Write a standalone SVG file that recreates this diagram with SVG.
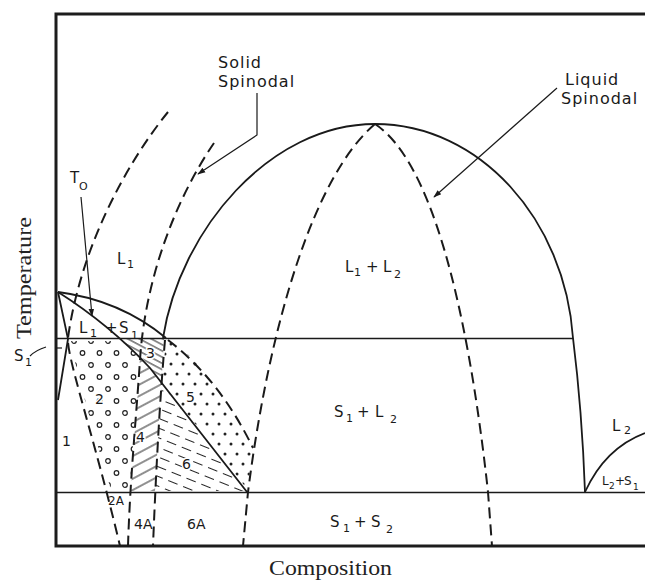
<svg xmlns="http://www.w3.org/2000/svg" width="645" height="582" viewBox="0 0 645 582">
<style>
.f{fill:none;stroke:#1a1a1a;stroke-width:1.8;stroke-linejoin:round}
.h{fill:none;stroke:#1a1a1a;stroke-width:1.3}
.d{fill:none;stroke:#1a1a1a;stroke-width:2;stroke-dasharray:11 6}
.ld{fill:none;stroke:#1a1a1a;stroke-width:1.2}
.t{font-family:"DejaVu Sans",sans-serif;font-size:15px;fill:#1a1a1a}
.b{font-size:16px;letter-spacing:1px}
.s{font-size:11px}
.n{font-size:14px}
.w{stroke:#fff;stroke-width:3px;paint-order:stroke;stroke-linejoin:round}
.sm{font-size:12px}
.ss{font-size:9px}
.ser{font-family:"Liberation Serif","Times New Roman",serif;font-size:22px;fill:#222}
</style>
<defs>
<marker id="ar" viewBox="0 0 10 10" refX="9" refY="5" markerWidth="8" markerHeight="8" orient="auto" markerUnits="userSpaceOnUse"><path d="M0,1.5 L10,5 L0,8.5z" fill="#1a1a1a"/></marker>
<pattern id="pc" width="17" height="24" patternUnits="userSpaceOnUse" x="2" y="0"><circle cx="4" cy="5" r="2.3" fill="none" stroke="#222" stroke-width="1.2"/><circle cx="12.5" cy="17" r="2.3" fill="none" stroke="#222" stroke-width="1.2"/></pattern>
<pattern id="pd" width="12" height="20" patternUnits="userSpaceOnUse"><circle cx="3" cy="4" r="1.5" fill="#222"/><circle cx="9" cy="14" r="1.5" fill="#222"/></pattern>
<pattern id="p3" width="10" height="5.5" patternUnits="userSpaceOnUse" patternTransform="rotate(28)"><line x1="0" y1="2.7" x2="10" y2="2.7" stroke="#222" stroke-width="1"/></pattern>
<pattern id="p4" width="10" height="10" patternUnits="userSpaceOnUse" patternTransform="rotate(-28)"><line x1="0" y1="5" x2="10" y2="5" stroke="#222" stroke-width="1"/></pattern>
<pattern id="p6" width="16" height="9" patternUnits="userSpaceOnUse" patternTransform="rotate(22)"><line x1="0" y1="4.5" x2="10" y2="4.5" stroke="#222" stroke-width="1"/></pattern>
</defs>
<rect width="645" height="582" fill="#fff"/>

<g id="regions">
<polygon id="r2" fill="url(#pc)" points="70,341 119,341 130,348 139,358 137,385 135,414 132,460 130,490 111,490 103,463 95,437 83,393 73,354"/>
<polygon id="r3" fill="url(#p3)" points="121,339 164,339 161.6,381 150,368 140,355 130,347"/>
<polygon id="r4" fill="url(#p4)" points="140,356 150,368 161,382 158,440 155,491 131,491 133,455 136,414 138.5,385"/>
<polygon id="r5" fill="url(#pd)" points="166,340 170,341 195,360 218,390 237,418 252,451 248,490 162,382"/>
<polygon id="r6" fill="url(#p6)" points="162,383 246,491 156,491 158,440"/>
</g>

<g id="frame">
<path d="M645,14 H56 V546 H645" fill="none" stroke="#1c1c1c" stroke-width="3"/>
</g>

<g id="connectors">
<line class="h" x1="57" y1="338.5" x2="573" y2="338.5"/>
<line class="h" x1="57" y1="492.5" x2="645" y2="492.5"/>
<path class="f" d="M163,338 C180,230 270,124 375,124 C480,124 565,220 573,338 Q582,410 585,492"/>
<path class="f" d="M585,492 Q605,448 645,433"/>
<path class="d" d="M375,124 C315,175 270,320 248,492 L243,546"/>
<path class="d" d="M375,124 C430,160 467,300 488,492 L492,546"/>
<path class="d" d="M168,112 C125,165 80,250 68,338 C66,355 95,440 120,546"/>
<path class="d" d="M214,143 C175,200 145,280 140,360 C136,420 130,480 128,546"/>
<path class="d" d="M165,340 Q158,420 153,546"/>
<path class="d" d="M168,340 Q220,380 253,448"/>
<path class="f" d="M58,292 Q110,325 150,368 L247,492"/>
<path class="f" d="M58,292 Q120,300 166,338"/>
<path class="f" d="M58,292 L68,339 L58,400"/>
<line class="ld" x1="56" y1="348" x2="62" y2="348"/>
<path class="ld" d="M81,197 L92,316" marker-end="url(#ar)"/>
<path class="ld" d="M257,93 V135 L198,174" marker-end="url(#ar)"/>
<path class="ld" d="M557,88 L434,197" marker-end="url(#ar)"/>
<path class="ld" d="M30,356 Q36,350 46,347"/>
</g>

<g id="labels">
<g id="solid-spinodal"><text class="t b" x="218" y="68">Solid</text><text class="t b" x="218" y="87">Spinodal</text></g>
<g id="liquid-spinodal"><text class="t b" x="565" y="85">Liquid</text><text class="t b" x="561" y="104">Spinodal</text></g>
<g id="t0"><text class="t" x="70" y="183">T<tspan class="s" x="79" y="190">O</tspan></text></g>
<g id="l1"><text class="t" x="117" y="264">L<tspan class="s" x="127" y="268">1</tspan></text></g>
<g id="l1l2"><text class="t" x="345" y="272">L<tspan class="s" x="354" y="276">1</tspan><tspan x="366" y="272">+</tspan><tspan x="383" y="272">L</tspan><tspan class="s" x="394" y="278">2</tspan></text></g>
<g id="l1s1"><text class="t" x="79" y="333">L<tspan class="s" x="90" y="337">1</tspan><tspan x="105" y="333">+</tspan><tspan x="119" y="333">S</tspan><tspan class="s" x="131" y="339">1</tspan></text></g>
<g id="s1l2"><text class="t" x="334" y="417">S<tspan class="s" x="346" y="422">1</tspan><tspan x="357" y="417">+</tspan><tspan x="375" y="417">L</tspan><tspan class="s" x="390" y="423">2</tspan></text></g>
<g id="s1s2"><text class="t" x="330" y="527">S<tspan class="s" x="343" y="532">1</tspan><tspan x="354" y="527">+</tspan><tspan x="371" y="527">S</tspan><tspan class="s" x="386" y="533">2</tspan></text></g>
<g id="l2"><text class="t" x="612" y="431">L<tspan class="s" x="624" y="434">2</tspan></text></g>
<g id="l2s1"><text class="t sm" x="602" y="485">L<tspan class="ss" x="609" y="489">2</tspan><tspan x="615" y="485">+</tspan><tspan x="624" y="485">S</tspan><tspan class="ss" x="633" y="490">1</tspan></text></g>
<g id="nums">
<text class="t n" x="62" y="446">1</text>
<text class="t n w" x="95" y="404">2</text>
<text class="t n w" x="146" y="358">3</text>
<text class="t n w" x="136" y="442">4</text>
<text class="t n w" x="186" y="402">5</text>
<text class="t n w" x="182" y="469">6</text>
<text class="t" x="108" y="505" style="font-size:12px">2A</text>
<text class="t n" x="134" y="529">4A</text>
<text class="t n" x="187" y="529">6A</text>
</g>
<g id="s1-axis"><text class="t" x="14" y="361">S<tspan class="s" x="25" y="366">1</tspan></text></g>
<text class="ser" transform="translate(31,278) rotate(-90)" text-anchor="middle" textLength="122" lengthAdjust="spacingAndGlyphs">Temperature</text>
<text class="ser" x="269" y="575" textLength="123" lengthAdjust="spacingAndGlyphs">Composition</text>
</g>
</svg>
